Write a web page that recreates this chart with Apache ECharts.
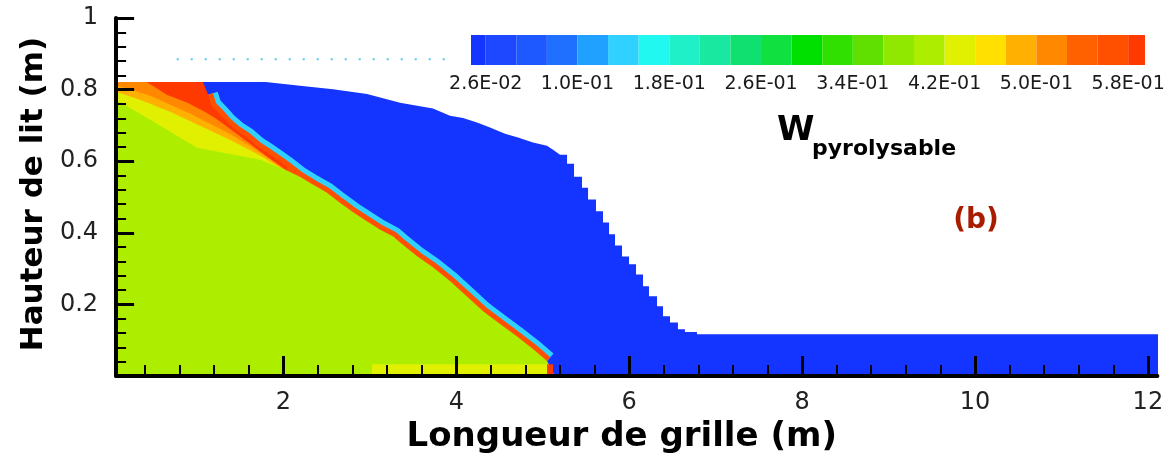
<!DOCTYPE html>
<html><head><meta charset="utf-8">
<script src="https://cdn.jsdelivr.net/npm/echarts@6/dist/echarts.min.js"></script>
<style>html,body{margin:0;padding:0;background:#fff}#c{width:1174px;height:459px}</style>
</head><body><div id="c"></div>
<script>
// ---- contour levels / colour scale ----
const levelValues = [0.026, 0.051, 0.075, 0.100, 0.127, 0.153, 0.180, 0.207, 0.233, 0.260, 0.287,
                     0.313, 0.340, 0.367, 0.393, 0.420, 0.447, 0.473, 0.500, 0.527, 0.553, 0.580];
const bandColors = ['#1434ff','#1e48ff','#1e58ff','#2070ff','#20a0ff','#30d0ff','#20f8f0','#20f0c8',
                    '#18e8a0','#10e070','#10e040','#00e000','#30e000','#60e000','#90e800','#adee00',
                    '#e0f000','#ffe000','#ffb000','#ff8800','#ff6000','#ff5000','#ff3a00'];
const legendLevelIdx = [0, 3, 6, 9, 12, 15, 18, 21];
const legendLabels = ['2.6E-02','1.0E-01','1.8E-01','2.6E-01','3.4E-01','4.2E-01','5.0E-01','5.8E-01'];

// ---- axes ----
const xMajorTicks = [2, 4, 6, 8, 10, 12];
const xMinorTicks = [0.4,0.8,1.2,1.6,2.4,2.8,3.2,3.6,4.4,4.8,5.2,5.6,6.4,6.8,7.2,7.6,8.4,8.8,9.2,9.6,10.4,10.8,11.2,11.6];

// ---- field (x in m, height in m) ----
const bedTop = [[0.065,0.821],[1.795,0.821],[2.192,0.811],[2.574,0.801],[2.967,0.788],[3.349,0.763],
  [3.730,0.747],[3.927,0.727],[4.077,0.721],[4.240,0.708],[4.390,0.694],[4.563,0.677],[4.714,0.666],
  [4.887,0.652],[5.049,0.643],[5.119,0.632],[5.200,0.618],
  [5.281,0.618],[5.281,0.593],[5.362,0.593],[5.362,0.557],[5.454,0.557],[5.454,0.526],
  [5.524,0.526],[5.524,0.493],[5.616,0.493],[5.616,0.460],[5.697,0.460],[5.697,0.429],
  [5.767,0.429],[5.767,0.396],[5.836,0.396],[5.836,0.365],[5.917,0.365],[5.917,0.334],
  [5.998,0.334],[5.998,0.312],[6.079,0.312],[6.079,0.284],[6.160,0.284],[6.160,0.251],
  [6.229,0.251],[6.229,0.223],[6.322,0.223],[6.322,0.195],[6.391,0.195],[6.391,0.167],
  [6.472,0.167],[6.472,0.150],[6.564,0.150],[6.564,0.131],[6.645,0.131],[6.645,0.123],
  [6.784,0.123],[6.784,0.117],[12.117,0.117]];
const reactionFront = [[0.065,0.821],[1.07,0.821],[1.13,0.786],[1.17,0.755],[1.27,0.730],[1.35,0.708],
  [1.46,0.685],[1.58,0.666],[1.69,0.643],[1.81,0.624],[1.93,0.604],[2.04,0.585],[2.19,0.557],[2.34,0.535],
  [2.50,0.513],[2.65,0.485],[2.81,0.457],[2.97,0.432],[3.12,0.409],[3.27,0.390],[3.35,0.373],[3.55,0.334],
  [3.73,0.304],[3.93,0.265],[4.12,0.223],[4.31,0.181],[4.51,0.145],[4.70,0.111],[4.89,0.075],[5.05,0.042],
  [5.14,0.0]];
const orangeTop = [[0.065,0.821],[0.42,0.821],[0.65,0.786],[0.89,0.763],[1.09,0.738],[1.21,0.721],
  [1.35,0.696],[1.58,0.655],[1.81,0.613],[2.04,0.574]];
const yellowOrangeTop = [[0.065,0.811],[0.16,0.805],[0.46,0.783],[0.69,0.758],[0.92,0.733],[1.15,0.705],
  [1.38,0.677],[1.61,0.643],[1.85,0.604],[2.04,0.571]];
const yellowTop = [[0.065,0.794],[0.34,0.772],[0.69,0.738],[1.035,0.699],[1.38,0.660],[1.73,0.616],[2.04,0.571]];
const freshTopLeft = [[0.065,0.772],[0.46,0.716],[1.00,0.638],[1.73,0.604],[2.04,0.574]];
const bottomStrip = [[3.025,0.033],[5.05,0.033]];
const bottomHotCell = [[5.05,0.033],[5.12,0.033]];
const dottedTrace = [[0.766,0.885],[3.87,0.885]];

// W_pyrolysable of each zone
const wBed = 0.02, wRim = 0.14, wFrontHot = 0.56, wHot = 0.59, wOrange = 0.51,
      wYellowOrange = 0.48, wYellow = 0.43, wFresh = 0.41;

function colorOf(w) {
  let i = 0;
  while (i < levelValues.length && levelValues[i] <= w) i++;
  return bandColors[i];
}
const hotEnd = 2.04;
const frontEdge = reactionFront.slice(2, -1);
const hotFront = reactionFront.filter(p => p[0] <= hotEnd);
const freshTop = freshTopLeft.concat(reactionFront.filter(p => p[0] > hotEnd));

const XMIN = 0.065, XMAX = 12.11;
const FONT = 'DejaVu Sans';
let zOrder = 2;

function area(name, data, w) {
  return {
    type: 'line', name: name, data: data, xAxisIndex: 0, yAxisIndex: 0, z: zOrder++,
    showSymbol: false, symbol: 'none', silent: true,
    lineStyle: { width: 0, opacity: 0 },
    areaStyle: { color: colorOf(w), opacity: 1 }
  };
}
function edge(name, data, color, width) {
  return {
    type: 'line', name: name, data: data, xAxisIndex: 0, yAxisIndex: 0, z: zOrder++,
    showSymbol: false, symbol: 'none', silent: true,
    lineStyle: { width: width, color: color, cap: 'butt', join: 'miter' }
  };
}

const bandRange = bandColors.map((c, i) => [i === 0 ? -0.48 : i - 1, i === bandColors.length - 1 ? 21.55 : i, i]);

const series = [
  area('bed', bedTop, wBed),
  edge('front rim', frontEdge, colorOf(wRim), 20),
  edge('front hot', frontEdge, colorOf(wFrontHot), 10),
  area('hot core', hotFront, wHot),
  area('orange', orangeTop, wOrange),
  area('yellow-orange', yellowOrangeTop, wYellowOrange),
  area('yellow', yellowTop, wYellow),
  area('fresh', freshTop, wFresh),
  area('bottom strip', bottomStrip, wYellow),
  area('bottom hot', bottomHotCell, wHot),
  { type: 'line', name: 'trace', data: dottedTrace, showSymbol: false, symbol: 'none', silent: true, z: zOrder++,
    lineStyle: { color: '#55c8ee', width: 2, type: [2, 12] } },
  { type: 'custom', name: 'colour bar', xAxisIndex: 2, yAxisIndex: 1, data: bandRange, silent: true, z: zOrder++,
    renderItem: function (params, api) {
      const p0 = api.coord([api.value(0), 1]);
      const p1 = api.coord([api.value(1), 0]);
      return { type: 'rect', shape: { x: p0[0], y: p0[1], width: p1[0] - p0[0], height: p1[1] - p0[1] },
               style: { fill: bandColors[api.value(2)] } };
    } }
];

const chart = echarts.init(document.getElementById('c'), null, { renderer: 'canvas' });
chart.setOption({
  animation: false,
  backgroundColor: '#ffffff',
  grid: [
    { left: 116.1, top: 18, width: 1041.3, height: 359 },
    { left: 471, top: 35, width: 674, height: 30 }
  ],
  xAxis: [
    { type: 'value', gridIndex: 0, position: 'bottom', min: XMIN, max: XMAX, z: 50,
      name: 'Longueur de grille (m)', nameLocation: 'middle', nameGap: 40,
      nameTextStyle: { fontFamily: FONT, fontWeight: 'bold', fontSize: 34, color: '#000', padding: [0, 30, 0, 0] },
      axisLine: { show: true, onZero: false, lineStyle: { color: '#000', width: 4 } },
      axisTick: { show: true, inside: true, length: 20, customValues: xMajorTicks, lineStyle: { color: '#000', width: 3 } },
      axisLabel: { customValues: xMajorTicks, fontFamily: FONT, fontSize: 24, color: '#222', margin: 15 },
      splitLine: { show: false } },
    { type: 'value', gridIndex: 0, position: 'bottom', min: XMIN, max: XMAX, z: 50,
      axisLine: { show: false, onZero: false },
      axisTick: { show: true, inside: true, length: 11, customValues: xMinorTicks, lineStyle: { color: '#000', width: 2 } },
      axisLabel: { show: false }, splitLine: { show: false } },
    { type: 'value', gridIndex: 1, min: -0.48, max: 21.55,
      axisLine: { show: false }, axisTick: { show: false },
      axisLabel: { customValues: legendLevelIdx, fontFamily: FONT, fontSize: 19, color: '#1a1a1a', margin: 10,
        formatter: v => legendLabels[legendLevelIdx.indexOf(Math.round(v))] || '' },
      splitLine: { show: false } }
  ],
  yAxis: [
    { type: 'value', gridIndex: 0, min: 0, max: 1, interval: 0.2, z: 50,
      name: 'Hauteur de lit (m)', nameLocation: 'middle', nameGap: 67, nameRotate: 90,
      nameTextStyle: { fontFamily: FONT, fontWeight: 'bold', fontSize: 31, color: '#000', padding: [0, 0, 0, 6] },
      axisLine: { show: true, onZero: false, lineStyle: { color: '#000', width: 4 } },
      axisTick: { show: true, inside: true, length: 18, lineStyle: { color: '#000', width: 3 } },
      minorTick: { show: true, splitNumber: 5, length: 10, lineStyle: { color: '#000', width: 2 } },
      axisLabel: { fontFamily: FONT, fontSize: 24, color: '#222', margin: 18,
        formatter: v => (v === 0 ? '' : String(Math.round(v * 10) / 10)) },
      splitLine: { show: false }, minorSplitLine: { show: false } },
    { type: 'value', gridIndex: 1, min: 0, max: 1, show: false }
  ],
  graphic: [
    { type: 'text', x: 777, y: 131, style: { text: 'W', font: 'bold 34px ' + FONT, fill: '#000', verticalAlign: 'middle', align: 'left' } },
    { type: 'text', x: 812, y: 149, style: { text: 'pyrolysable', font: 'bold 22px ' + FONT, fill: '#000', verticalAlign: 'middle', align: 'left' } },
    { type: 'text', x: 976, y: 221, style: { text: '(b)', font: 'bold 28px ' + FONT, fill: '#a81c00', verticalAlign: 'middle', align: 'center' } }
  ],
  series: series
});
</script>
</body></html>
